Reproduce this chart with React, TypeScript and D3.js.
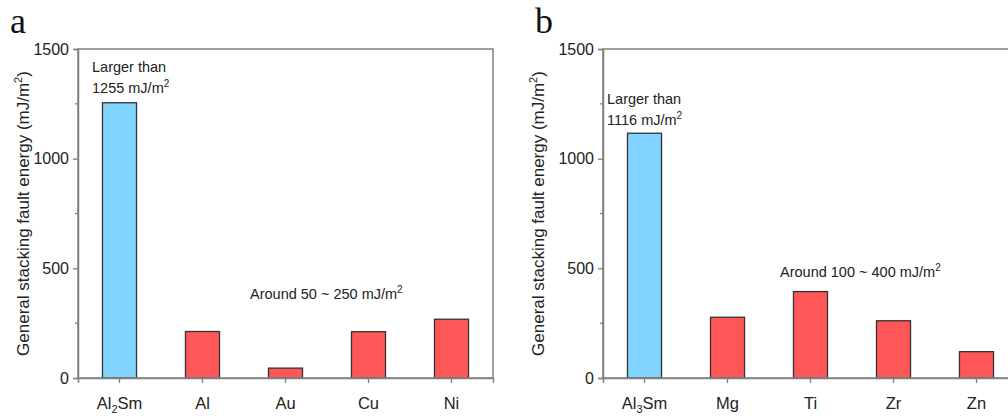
import { useEffect, useRef } from 'react';
import * as d3 from 'd3';

// Panel a
const catsA = ['Al2Sm', 'Al', 'Au', 'Cu', 'Ni'];
const valsA = [1255, 212, 45, 211, 268];
// Panel b
const catsB = ['Al3Sm', 'Mg', 'Ti', 'Zr', 'Zn'];
const valsB = [1116, 277, 394, 261, 120];

const yMajor = [0, 500, 1000, 1500];
const yMinor = [250, 750, 1250];

const BLUE = '#80d4ff';
const RED = '#ff5757';
const AXIS = '#808080';
const FONT = 'Arial, "Liberation Sans", sans-serif';

type Panel = {
  letter: string;
  cats: string[];
  vals: number[];
  left: number;
  titleX: number;
  note1: string[];
  note1Pos: [number, number];
  note2: string;
  note2Pos: [number, number];
};

const App = () => {
  const svgRef = useRef<SVGSVGElement>(null);

  useEffect(() => {
    document.body.style.margin = '0';
    const svg = d3.select(svgRef.current);
    svg.selectAll('*').remove();

    const top = 49;
    const bottom = 378;
    const plotW = 415;

    const y = d3.scaleLinear().domain([0, 1500]).range([bottom, top]);

    const panels: Panel[] = [
      {
        letter: 'a', cats: catsA, vals: valsA, left: 78, titleX: 29,
        note1: ['Larger than', '1255 mJ/m'], note1Pos: [92, 72],
        note2: 'Around 50 ~ 250 mJ/m', note2Pos: [250, 299],
      },
      {
        letter: 'b', cats: catsB, vals: valsB, left: 603, titleX: 544,
        note1: ['Larger than', '1116 mJ/m'], note1Pos: [607, 104],
        note2: 'Around 100 ~ 400 mJ/m', note2Pos: [780, 277],
      },
    ];

    panels.forEach((p) => {
      const g = svg.append('g');
      const x = d3.scaleBand<string>()
        .domain(p.cats)
        .range([p.left, p.left + plotW])
        .paddingInner(0.59)
        .paddingOuter(0.295);

      // bars
      g.selectAll('rect.bar')
        .data(p.cats)
        .enter()
        .append('rect')
        .attr('x', d => x(d)!)
        .attr('width', x.bandwidth())
        .attr('y', (d, i) => y(p.vals[i]))
        .attr('height', (d, i) => bottom - y(p.vals[i]))
        .attr('fill', (d, i) => (i === 0 ? BLUE : RED))
        .attr('stroke', '#333')
        .attr('stroke-width', 1.3);

      // frame (top + right)
      g.append('rect')
        .attr('x', p.left)
        .attr('y', top)
        .attr('width', plotW)
        .attr('height', bottom - top)
        .attr('fill', 'none')
        .attr('stroke', AXIS)
        .attr('stroke-width', 1.5);

      // y axis
      const yAxis = g.append('g')
        .attr('transform', `translate(${p.left},0)`)
        .call(d3.axisLeft(y).tickValues(yMajor).tickSize(5).tickPadding(4).tickFormat(d3.format('d')));
      yAxis.select('.domain').attr('stroke', AXIS).attr('stroke-width', 1.5);
      yAxis.selectAll('.tick line').attr('stroke', AXIS).attr('stroke-width', 1.3);
      yAxis.selectAll('.tick text')
        .attr('fill', '#222')
        .style('font-family', FONT)
        .style('font-size', '16px');

      g.append('g')
        .attr('transform', `translate(${p.left},0)`)
        .selectAll('line')
        .data(yMinor)
        .enter()
        .append('line')
        .attr('x1', -3)
        .attr('x2', 0)
        .attr('y1', d => y(d))
        .attr('y2', d => y(d))
        .attr('stroke', AXIS)
        .attr('stroke-width', 1.3);

      // x axis
      const xAxis = g.append('g')
        .attr('transform', `translate(0,${bottom})`)
        .call(d3.axisBottom(x).tickSize(5).tickPadding(8).tickFormat(() => ''));
      xAxis.select('.domain').attr('stroke', AXIS).attr('stroke-width', 1.5);
      xAxis.selectAll('.tick line').attr('stroke', AXIS).attr('stroke-width', 1.3);

      // category labels with subscripts
      p.cats.forEach((c) => {
        const t = g.append('text')
          .attr('x', x(c)! + x.bandwidth() / 2)
          .attr('y', 409)
          .attr('text-anchor', 'middle')
          .attr('fill', '#222')
          .style('font-family', FONT)
          .style('font-size', '16.5px');
        const m = c.match(/^Al(\d)Sm$/);
        if (m) {
          t.append('tspan').text('Al');
          t.append('tspan').attr('dy', 4).style('font-size', '11px').text(m[1]);
          t.append('tspan').attr('dy', -4).text('Sm');
        } else {
          t.text(c);
        }
      });

      // y title
      const t = g.append('text')
        .attr('transform', `translate(${p.titleX},${(top + bottom) / 2}) rotate(-90)`)
        .attr('text-anchor', 'middle')
        .attr('fill', '#222')
        .style('font-family', FONT)
        .style('font-size', '17px');
      t.append('tspan').text('General stacking fault energy (mJ/m');
      t.append('tspan').attr('dy', -7).style('font-size', '11px').text('2');
      t.append('tspan').attr('dy', 7).text(')');

      // panel letter
      g.append('text')
        .attr('x', p.left - 68)
        .attr('y', 33)
        .attr('fill', '#111')
        .style('font-family', '"Liberation Serif", "Times New Roman", serif')
        .style('font-size', '36px')
        .text(p.letter);

      // annotations
      p.note1.forEach((line, i) => {
        const a = g.append('text')
          .attr('x', p.note1Pos[0])
          .attr('y', p.note1Pos[1] + i * 21)
          .attr('fill', '#222')
          .style('font-family', FONT)
          .style('font-size', '14.5px');
        a.append('tspan').text(line);
        if (i === 1) a.append('tspan').attr('dy', -6).style('font-size', '10px').text('2');
      });
      const n2 = g.append('text')
        .attr('x', p.note2Pos[0])
        .attr('y', p.note2Pos[1])
        .attr('fill', '#222')
        .style('font-family', FONT)
        .style('font-size', '14.5px');
      n2.append('tspan').text(p.note2);
      n2.append('tspan').attr('dy', -6).style('font-size', '10px').text('2');
    });
  }, []);

  return <svg ref={svgRef} width={1008} height={419} style={{ display: 'block', background: '#fff' }}></svg>;
};

export default App;
